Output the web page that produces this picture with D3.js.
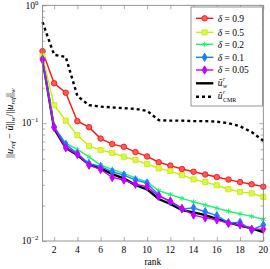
<!DOCTYPE html>
<html>
<head>
<meta charset="utf-8">
<script src="https://cdn.jsdelivr.net/npm/d3@7"></script>
<style>
  body { margin: 0; background: #fff; }
  svg { display: block; }
  text { font-family: "Liberation Serif", "DejaVu Serif", serif; fill: #000; }
</style>
</head>
<body>
<svg id="chart"></svg>
<script>
// values
const ranks = [1, 2, 3, 4, 5, 6, 7, 8, 9, 10, 11, 12, 13, 14, 15, 16, 17, 18, 19, 20];
const delta09 = [0.408, 0.218, 0.181, 0.104, 0.0925, 0.074, 0.0664, 0.063, 0.0568, 0.0522, 0.0466, 0.0436, 0.0408, 0.0387, 0.0367, 0.0349, 0.0332, 0.0316, 0.0303, 0.0289];
const delta05 = [0.37, 0.142, 0.105, 0.079, 0.064, 0.059, 0.056, 0.0519, 0.0486, 0.045, 0.0413, 0.0392, 0.0362, 0.0333, 0.0316, 0.0297, 0.0275, 0.0261, 0.0254, 0.0237];
const delta02 = [0.35, 0.093, 0.0673, 0.0598, 0.0518, 0.044, 0.0405, 0.0375, 0.0342, 0.0318, 0.0268, 0.0248, 0.023, 0.0215, 0.0202, 0.019, 0.0179, 0.017, 0.0162, 0.0153];
const delta01 = [0.35, 0.093, 0.066, 0.0553, 0.0455, 0.0427, 0.0387, 0.0362, 0.0329, 0.031, 0.0245, 0.0215, 0.0187, 0.0191, 0.0177, 0.0164, 0.0143, 0.0144, 0.0124, 0.0137];
const delta005 = [0.345, 0.092, 0.0618, 0.0543, 0.044, 0.0405, 0.0346, 0.0329, 0.0303, 0.0289, 0.024, 0.0218, 0.0189, 0.0166, 0.0157, 0.0151, 0.0141, 0.0137, 0.0126, 0.0126];
const uw = [0.35, 0.09, 0.0618, 0.0536, 0.0447, 0.0413, 0.037, 0.034, 0.0298, 0.0274, 0.0227, 0.0206, 0.0183, 0.0175, 0.0166, 0.0154, 0.0144, 0.0135, 0.0128, 0.0119];
const ucmr = [0.72, 0.38, 0.365, 0.17, 0.142, 0.138, 0.136, 0.134, 0.132, 0.127, 0.106, 0.105, 0.105, 0.104, 0.104, 0.103, 0.1, 0.094, 0.084, 0.071];
const xTicks = [2, 4, 6, 8, 10, 12, 14, 16, 18, 20];
const yTicks = [1, 0.1, 0.01];
const yTickExp = ["0", "\u22121", "\u22122"];

const width = 270, height = 269;
const margin = {left: 42.5, right: 6.7, top: 5.3, bottom: 28};
const x0 = margin.left, x1 = width - margin.right;
const y0 = height - margin.bottom, y1 = margin.top;

const svg = d3.select("#chart").attr("width", width).attr("height", height);

const x = d3.scaleLinear().domain([1, 20]).range([x0, x1]);
const y = d3.scaleLog().domain([0.01, 1]).range([y0, y1]);

const axisColor = "#7a7a7a";

// minor log ticks at 2..9 of each decade
let minor = [];
[0.01, 0.1].forEach(d => { for (let k = 2; k <= 9; k++) minor.push(d * k); });

function inward(g) {
  g.select(".domain").remove();
  g.selectAll("line").attr("stroke", axisColor).attr("stroke-width", 0.6);
}

svg.append("g").attr("transform", `translate(${x0},0)`)
  .call(d3.axisLeft(y).tickValues(minor).tickSize(-2.7).tickFormat("")).call(inward);
svg.append("g").attr("transform", `translate(${x1},0)`)
  .call(d3.axisRight(y).tickValues(minor).tickSize(-2.7).tickFormat("")).call(inward);
svg.append("g").attr("transform", `translate(${x0},0)`)
  .call(d3.axisLeft(y).tickValues(yTicks).tickSize(-4).tickFormat("")).call(inward);
svg.append("g").attr("transform", `translate(${x1},0)`)
  .call(d3.axisRight(y).tickValues(yTicks).tickSize(-4).tickFormat("")).call(inward);
svg.append("g").attr("transform", `translate(0,${y0})`)
  .call(d3.axisBottom(x).tickValues(xTicks).tickSize(-4).tickFormat("")).call(inward);
svg.append("g").attr("transform", `translate(0,${y1})`)
  .call(d3.axisTop(x).tickValues(xTicks).tickSize(-4).tickFormat("")).call(inward);

// x tick labels
svg.append("g").selectAll("text").data(xTicks).join("text")
  .attr("x", d => x(d)).attr("y", y0 + 11.5)
  .attr("text-anchor", "middle").attr("font-size", 9.5)
  .text(d => d);

// y tick labels 10^k
const yl = svg.append("g").selectAll("text").data(yTicks).join("text")
  .attr("x", x0 - 4).attr("y", d => y(d) + 3.3)
  .attr("text-anchor", "end").attr("font-size", 9.5);
yl.append("tspan").text("10");
yl.append("tspan").attr("dy", -4).attr("font-size", 6.8).text((d, i) => yTickExp[i]);

// axis titles
svg.append("text").attr("x", (x0 + x1) / 2).attr("y", height - 4)
  .attr("text-anchor", "middle").attr("font-size", 9.5).text("rank");

const yt = svg.append("text")
  .attr("transform", `translate(13,${(y0 + y1) / 2}) rotate(-90)`)
  .attr("text-anchor", "middle").attr("font-size", 10.2).attr("font-style", "italic");
yt.append("tspan").attr("font-style", "normal").text("||");
yt.append("tspan").text("u");
yt.append("tspan").attr("font-size", 7).attr("dy", 2).text("ref");
yt.append("tspan").attr("font-style", "normal").attr("dy", -2).text(" \u2212 ");
yt.append("tspan").text("\u0169");
yt.append("tspan").attr("font-style", "normal").text("||");
yt.append("tspan").attr("font-size", 7).attr("dy", 2).text("w");
yt.append("tspan").attr("font-style", "normal").attr("dy", -2).text("/||");
yt.append("tspan").text("u");
yt.append("tspan").attr("font-size", 7).attr("dy", 2).text("ref");
yt.append("tspan").attr("font-style", "normal").attr("dy", -2).text("||");
yt.append("tspan").attr("font-size", 7).attr("dy", 2).text("w");

// series
const series = [
  {name: "0.9", values: delta09, color: "#ff1414", fill: "#ff5a5a", symbol: d3.symbolCircle, size: 24, width: 1.4},
  {name: "0.5", values: delta05, color: "#c8ee00", fill: "#dcf55a", symbol: d3.symbolSquare, size: 26, width: 1.4},
  {name: "0.2", values: delta02, color: "#22f070", fill: "#22f070", symbol: d3.symbolAsterisk, size: 18, width: 1.4},
  {name: "0.1", values: delta01, color: "#1a7cff", fill: "#1a7cff", symbol: d3.symbolDiamond, size: 20, width: 1.4},
  {name: "0.05", values: delta005, color: "#c400ff", fill: "#c400ff", symbol: d3.symbolDiamond, size: 20, width: 1.4}
];

const line = d3.line().x((d, i) => x(ranks[i])).y(d => y(d));

const plot = svg.append("g");
plot.append("path").datum(ucmr).attr("d", line)
  .attr("fill", "none").attr("stroke", "#000").attr("stroke-width", 2.4)
  .attr("stroke-dasharray", "3,3");
plot.append("path").datum(uw).attr("d", line)
  .attr("fill", "none").attr("stroke", "#000").attr("stroke-width", 2.4);

function drawMarker(sel, s) {
  const isStroke = s.symbol === d3.symbolAsterisk;
  sel.attr("d", d3.symbol().type(s.symbol).size(s.size))
    .attr("fill", isStroke ? "none" : s.fill)
    .attr("stroke", s.color).attr("stroke-width", isStroke ? 1 : 0.9);
}

series.forEach(s => {
  plot.append("path").datum(s.values).attr("d", line)
    .attr("fill", "none").attr("stroke", s.color).attr("stroke-width", s.width);
  plot.append("g").selectAll("path").data(s.values).join("path")
    .attr("transform", (d, i) => `translate(${x(ranks[i])},${y(d)})`)
    .call(drawMarker, s);
});

// frame
svg.append("rect").attr("x", x0).attr("y", y1).attr("width", x1 - x0).attr("height", y0 - y1)
  .attr("fill", "none").attr("stroke", axisColor).attr("stroke-width", 0.8);

// legend
const lg = svg.append("g").attr("transform", "translate(191,7)");
lg.append("rect").attr("width", 71.5).attr("height", 99)
  .attr("fill", "#fff").attr("stroke", axisColor).attr("stroke-width", 0.8);
const rowY = [11.3, 25.3, 37.3, 50.3, 63, 76.3, 89.7];
series.forEach((s, i) => {
  const r = lg.append("g").attr("transform", `translate(0,${rowY[i]})`);
  r.append("line").attr("x1", 5).attr("x2", 22.3).attr("stroke", s.color).attr("stroke-width", s.width);
  r.append("path").attr("transform", "translate(13.6,0)").call(drawMarker, s);
  const t = r.append("text").attr("x", 26.7).attr("y", 3.3).attr("font-size", 9.5);
  t.append("tspan").attr("font-style", "italic").text("\u03b4");
  t.append("tspan").text(" = " + s.name);
});
["w", "CMR"].forEach((sub, j) => {
  const r = lg.append("g").attr("transform", `translate(0,${rowY[5 + j]})`);
  r.append("line").attr("x1", 5).attr("x2", 22.3).attr("stroke", "#000").attr("stroke-width", 2.4)
    .attr("stroke-dasharray", j === 0 ? null : "3,3");
  r.append("text").attr("x", 26.7).attr("y", 2.2).attr("font-size", 9.5)
    .attr("font-style", "italic").text("\u0169");
  r.append("text").attr("x", 32).attr("y", -2.4).attr("font-size", 5.5)
    .attr("font-style", "italic").text("r");
  r.append("text").attr("x", 32).attr("y", 5.2).attr("font-size", 6)
    .attr("font-style", j === 0 ? "italic" : "normal").text(sub);
});
</script>
</body>
</html>
